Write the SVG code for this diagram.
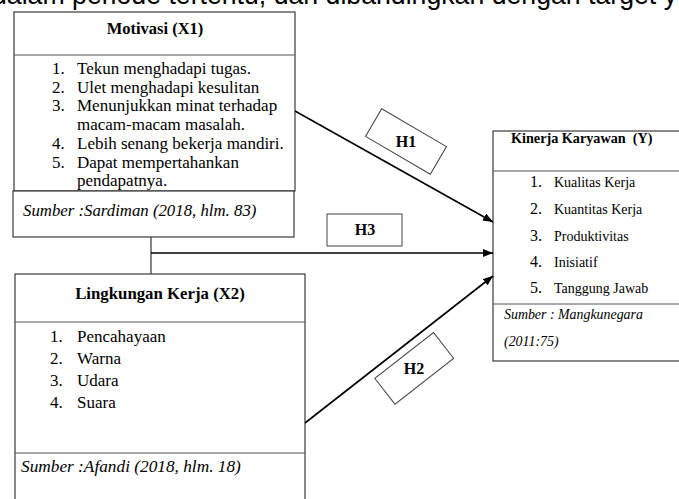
<svg xmlns="http://www.w3.org/2000/svg" width="679" height="499" viewBox="0 0 679 499">
<style>
.box{fill:#fff;stroke:#3a3a3a;stroke-width:1.2}
.sep{stroke:#555;stroke-width:1.2}
.t{font-family:"Liberation Serif","Times New Roman",serif;fill:#000}
.b{font-weight:bold}
.i{font-style:italic}
.con{stroke:#000;stroke-width:1.6;fill:none}
.lbl{fill:#fff;stroke:#444;stroke-width:1}
</style>
<defs>
<marker id="ah" viewBox="0 0 10 8" refX="10" refY="4" markerWidth="10" markerHeight="8" markerUnits="userSpaceOnUse" orient="auto">
<path d="M0,0 L10,4 L0,8 z" fill="#000"/>
</marker>
</defs>
<rect width="679" height="499" fill="#fff"/>
<text x="-8" y="4" font-size="27" font-family="Liberation Sans, Arial, sans-serif" fill="#000" textLength="685" lengthAdjust="spacingAndGlyphs">dalam periode tertentu, dan dibandingkan dengan target y</text>

<g id="motivasi">
<rect class="box" x="14" y="12" width="281" height="179"/>
<line class="sep" x1="14" y1="55" x2="295" y2="55"/>
<rect class="box" x="13" y="191" width="281" height="46"/>
<text class="t b" x="155" y="34" font-size="16.5" text-anchor="middle">Motivasi (X1)</text>
<g class="t" font-size="17">
<text x="52" y="74">1.</text><text x="77" y="74">Tekun menghadapi tugas.</text>
<text x="52" y="92.5">2.</text><text x="77" y="92.5">Ulet menghadapi kesulitan</text>
<text x="52" y="111">3.</text><text x="77" y="111">Menunjukkan minat terhadap</text>
<text x="77" y="130">macam-macam masalah.</text>
<text x="52" y="149">4.</text><text x="77" y="149">Lebih senang bekerja mandiri.</text>
<text x="52" y="167.5">5.</text><text x="77" y="167.5">Dapat mempertahankan</text>
<text x="77" y="186">pendapatnya.</text>
</g>
<text class="t i" x="23" y="216" font-size="16.8">Sumber :Sardiman (2018, hlm. 83)</text>
</g>

<g id="lingkungan">
<rect class="box" x="15" y="274" width="290" height="240"/>
<line class="sep" x1="15" y1="322" x2="305" y2="322"/>
<line class="sep" x1="15" y1="453" x2="305" y2="453"/>
<text class="t b" x="160" y="299" font-size="16.8" text-anchor="middle">Lingkungan Kerja (X2)</text>
<g class="t" font-size="17">
<text x="50" y="342">1.</text><text x="77" y="342">Pencahayaan</text>
<text x="50" y="364">2.</text><text x="77" y="364">Warna</text>
<text x="50" y="386">3.</text><text x="77" y="386">Udara</text>
<text x="50" y="408">4.</text><text x="77" y="408">Suara</text>
</g>
<text class="t i" x="21" y="472" font-size="17.3">Sumber :Afandi (2018, hlm. 18)</text>
</g>

<g id="kinerja">
<rect class="box" x="493" y="131" width="200" height="230"/>
<line class="sep" x1="493" y1="171" x2="693" y2="171"/>
<line class="sep" x1="493" y1="304" x2="693" y2="304"/>
<text class="t b" x="511" y="143" font-size="14.2" xml:space="preserve">Kinerja Karyawan  (Y)</text>
<g class="t">
<text x="530" y="187" font-size="16">1.</text><text x="554" y="187" font-size="14">Kualitas Kerja</text>
<text x="530" y="214" font-size="16">2.</text><text x="554" y="214" font-size="14">Kuantitas Kerja</text>
<text x="530" y="241" font-size="16">3.</text><text x="554" y="241" font-size="14">Produktivitas</text>
<text x="530" y="267" font-size="16">4.</text><text x="554" y="267" font-size="14">Inisiatif</text>
<text x="530" y="293" font-size="16">5.</text><text x="554" y="293" font-size="14">Tanggung Jawab</text>
</g>
<text class="t i" x="504" y="319" font-size="13.9">Sumber : Mangkunegara</text>
<text class="t i" x="504" y="346" font-size="13.9">(2011:75)</text>
</g>

<g id="connectors">
<line class="con" x1="151" y1="237" x2="151" y2="274" style="stroke-width:1.2;stroke:#333"/>
<line class="con" x1="151" y1="253" x2="493" y2="253" marker-end="url(#ah)"/>
<line class="con" x1="295" y1="111" x2="493" y2="222" marker-end="url(#ah)"/>
<line class="con" x1="305" y1="423" x2="493" y2="276" marker-end="url(#ah)"/>
</g>

<g id="label-h1">
<rect class="lbl" x="-37.5" y="-16" width="75" height="32" transform="translate(406,141.5) rotate(30.3)"/>
<text class="t b" x="406" y="147" font-size="16" text-anchor="middle">H1</text>
</g>
<g id="label-h3">
<rect class="lbl" x="327" y="214" width="75" height="32"/>
<text class="t b" x="365" y="235" font-size="16" text-anchor="middle">H3</text>
</g>
<g id="label-h2">
<rect class="lbl" x="-37.3" y="-16.4" width="74.5" height="32.7" transform="translate(414.3,368.4) rotate(-38)"/>
<text class="t b" x="414" y="374" font-size="16" text-anchor="middle">H2</text>
</g>
</svg>
